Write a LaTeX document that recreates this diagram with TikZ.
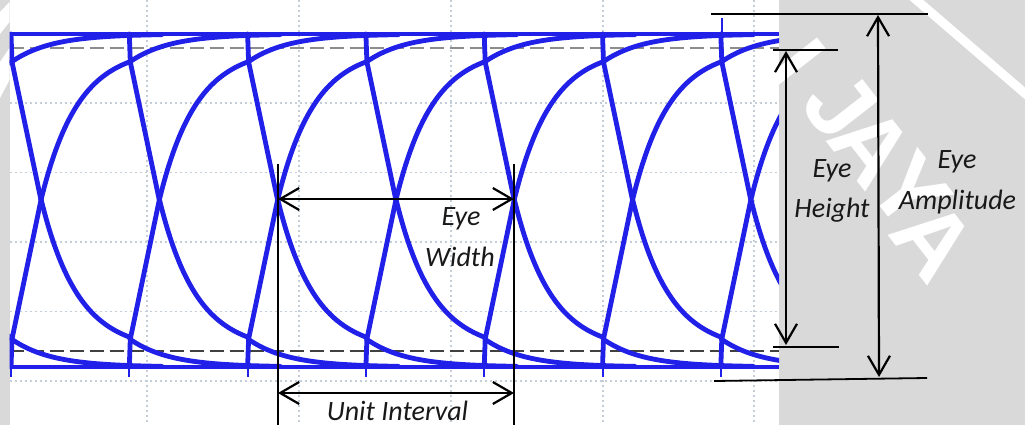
\documentclass[tikz,border=0pt]{standalone}
\usepackage{fontspec}
\setmainfont{Carlito}
\newfontfamily\wmfont{Liberation Sans}
\usetikzlibrary{arrows.meta}
\definecolor{trace}{RGB}{32,32,232}
\definecolor{bgray}{RGB}{217,217,217}
\definecolor{gridc}{RGB}{196,206,216}
\begin{document}
\begin{tikzpicture}[x=1pt,y=-1pt,
  trc/.style={draw=trace,line width=4.8pt,line cap=round,line join=round},
  rail/.style={draw=trace,line width=4.5pt},
  gridl/.style={draw=gridc,line width=1.1pt,dash pattern=on 2pt off 3pt},
  refl/.style={line width=1.2pt,dash pattern=on 14pt off 6pt},
  dim/.style={draw=black,line width=2.2pt,{Straight Barb[length=19pt,width=22pt]}-{Straight Barb[length=19pt,width=22pt]}},
  ext/.style={draw=black,line width=1.8pt},
  lbl/.style={font=\fontsize{28}{34}\selectfont\itshape,text=black!90,inner sep=0pt,anchor=base},
  wm/.style={font=\wmfont\bfseries\fontsize{96}{96}\selectfont,text=white,rotate=-52,inner sep=0pt}
]
\useasboundingbox (0,0) rectangle (1025,425);
\fill[bgray] (0,0) rectangle (1025,425);
% watermark (white on grey)
\node[wm] (wmI) at (796,64) {I};
\node[wm] (wmJ) at (841,105) {J};
\node[wm] (wmA1) at (872,146) {A};
\node[wm] (wmY) at (910,191) {Y};
\node[wm] (wmA2) at (934,240) {A};
\draw[white,line width=9pt] (913,-3) -- (1028,96);
\fill[white] (0,12) -- (9.5,2) -- (9.5,22) -- (0,34) -- cycle;
\fill[white] (0,62) -- (9.5,48) -- (9.5,80) -- (0,98) -- cycle;
% plot area
\fill[white] (9.5,0) rectangle (779,425);
% grid
\foreach \gx in {147,299,451,603,754} \draw[gridl] (\gx,0) -- (\gx,425);
\foreach \gy in {103,172.5,242,311.5,381} \draw[gridl] (9.5,\gy) -- (779,\gy);
% reference dashed levels
\draw[refl,draw=black!45] (9.5,48) -- (779,48);
\draw[refl,draw=black!75] (9.5,351) -- (779,351);
% eye traces
\begin{scope}
\clip (9.5,0) rectangle (779,425);
\draw[rail] (10,34) -- (779,34);
\draw[rail] (10,367) -- (779,367);
\foreach \k in {-1,...,6}{
  \pgfmathsetmacro\cx{41+118.3*\k}
  \pgfmathsetmacro\xa{\cx-30}
  \pgfmathsetmacro\xb{\cx-29}
  \pgfmathsetmacro\xn{\cx+89}
  \pgfmathsetmacro\xm{\cx+89+150}
  \draw[trc] (\xa,34) -- (\xb,62) -- (\cx,200) -- (\xb,339) -- (\xa,367);
  \draw[trc] plot[domain=\cx:\xn,samples=50,smooth] (\x,{48+152*exp(-(\x-(\cx))/37)})
     plot[domain=\xn:\xm,samples=50,smooth] (\x,{34+27.8*exp(-(\x-(\xn))/40)});
  \draw[trc] plot[domain=\cx:\xn,samples=50,smooth] (\x,{351-152*exp(-(\x-(\cx))/37)})
     plot[domain=\xn:\xm,samples=50,smooth] (\x,{367-27.8*exp(-(\x-(\xn))/40)});
  \draw[draw=trace,line width=2pt] (\xa,345) -- (\xa,377);
}
\draw[draw=trace,line width=2pt] (722,18) -- (722,50);
\end{scope}
% unit interval / eye width
\coordinate (uiLt) at (278,164);
\coordinate (uiLb) at (278,425);
\coordinate (uiRt) at (514,164);
\coordinate (uiRb) at (514,425);
\coordinate (ewL) at (278,199);
\coordinate (ewR) at (514,199);
\coordinate (uL) at (278,393);
\coordinate (uR) at (514,393);
\draw[ext,line width=1.6pt] (uiLt) -- (uiLb);
\draw[ext,line width=1.6pt] (uiRt) -- (uiRb);
\draw[dim] (ewL) -- (ewR);
\draw[dim] (uL) -- (uR);
% eye height
\coordinate (ehT1) at (773,50);
\coordinate (ehT2) at (838,50);
\coordinate (ehB1) at (773,347);
\coordinate (ehB2) at (839,347);
\coordinate (ehA) at (786,51);
\coordinate (ehZ) at (786,345);
\draw[ext] (ehT1) -- (ehT2);
\draw[ext] (ehB1) -- (ehB2);
\draw[dim] (ehA) -- (ehZ);
% eye amplitude
\coordinate (eaT1) at (711,14);
\coordinate (eaT2) at (928,14);
\coordinate (eaB1) at (714,381);
\coordinate (eaB2) at (927,378);
\coordinate (eaA) at (878,15);
\coordinate (eaZ) at (879,377);
\draw[ext] (eaT1) -- (eaT2);
\draw[ext] (eaB1) -- (eaB2);
\draw[dim] (eaA) -- (eaZ);
% labels
\node[lbl] (ew1) at (461,225) {Eye};
\node[lbl] (ew2) at (460,266) {Width};
\node[lbl] (uit) at (397.5,420) {Unit Interval};
\node[lbl] (eh1) at (832,177) {Eye};
\node[lbl] (eh2) at (832,217) {Height};
\node[lbl] (ea1) at (957,168) {Eye};
\node[lbl] (ea2) at (957.5,209) {Amplitude};
\end{tikzpicture}
\end{document}
